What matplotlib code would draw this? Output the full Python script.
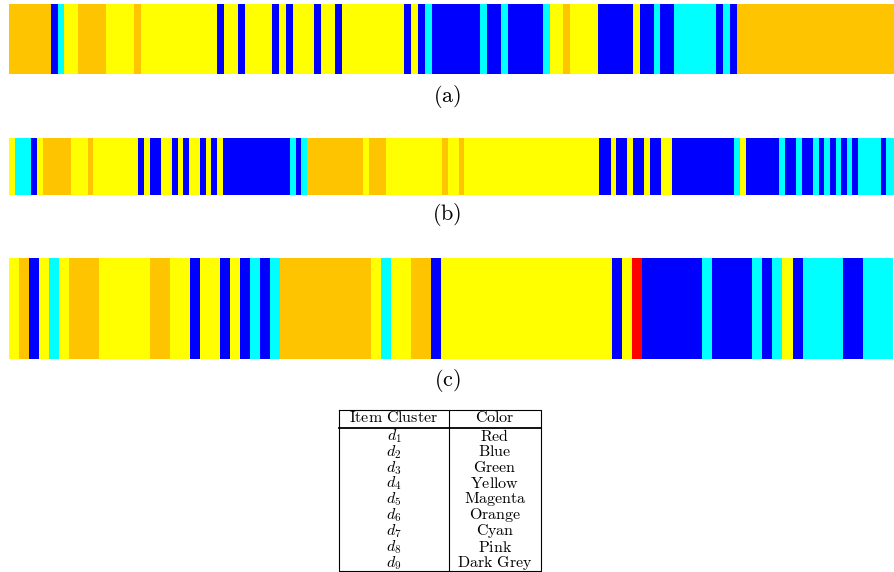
import numpy as np
import matplotlib
matplotlib.use("Agg")
import matplotlib.pyplot as plt

plt.rcParams["mathtext.fontset"] = "cm"

# cluster colours seen in the strips
colors = {"R": "#FF0000", "B": "#0000FF", "C": "#00FFFF",
          "Y": "#FFFF00", "O": "#FFC400"}

# run-length encoded cluster sequences (label, run length)
strip_a_labels = ["O", "B", "C", "Y", "O", "Y", "O", "Y", "B", "Y", "B", "Y", "B", "Y", "B",
                  "Y", "B", "Y", "B", "Y", "B", "Y", "B", "C", "B", "C", "B", "C", "B", "C",
                  "Y", "O", "Y", "B", "Y", "B", "C", "B", "C", "B", "C", "B", "O"]
strip_a_runs = [6, 1, 1, 2, 4, 4, 1, 11, 1, 2, 1, 4, 1, 1, 1,
                3, 1, 2, 1, 9, 1, 1, 1, 1, 7, 1, 2, 1, 5, 1,
                2, 1, 4, 5, 1, 2, 1, 2, 6, 1, 1, 1, 23]

strip_b_labels = ["Y", "C", "B", "Y", "O", "Y", "O", "Y", "B", "Y", "B", "Y", "B", "Y", "B",
                  "Y", "B", "Y", "B", "Y", "B", "C", "B", "C", "O", "Y", "O", "Y", "O", "Y",
                  "O", "Y", "B", "Y", "B", "Y", "B", "Y", "B", "Y", "B", "C", "Y", "B", "C",
                  "B", "C", "B", "C", "B", "C", "B", "C", "B", "C", "B", "C", "B", "C"]
strip_b_runs = [1, 3, 1, 1, 5, 3, 1, 8, 1, 1, 2, 2, 1, 1, 1,
                2, 1, 1, 1, 1, 12, 1, 1, 1, 10, 1, 3, 10, 1, 2,
                1, 24, 2, 1, 2, 1, 2, 1, 2, 2, 11, 1, 1, 6, 1,
                2, 1, 2, 1, 1, 1, 1, 1, 1, 1, 1, 4, 1, 2]

strip_c_labels = ["Y", "O", "B", "Y", "C", "Y", "O", "Y", "O", "Y", "B", "Y", "B", "Y", "B",
                  "C", "B", "C", "O", "Y", "C", "Y", "O", "B", "Y", "B", "Y", "R", "B", "C",
                  "B", "C", "B", "C", "Y", "B", "C", "B", "C"]
strip_c_runs = [1, 1, 1, 1, 1, 1, 3, 5, 2, 2, 1, 2, 1, 1, 1,
                1, 1, 1, 9, 1, 1, 2, 2, 1, 17, 1, 1, 1, 6, 1,
                4, 1, 1, 1, 1, 1, 4, 2, 3]

captions = ["(a)", "(b)", "(c)"]

table_clusters = [r"$d_{%d}$" % i for i in range(1, 10)]
table_colors = ["Red", "Blue", "Green", "Yellow", "Magenta", "Orange", "Cyan", "Pink", "Dark Grey"]

W, H = 894, 572
fig = plt.figure(figsize=(W / 100, H / 100), dpi=100)

# (top px, bottom px, visible units, caption y px)
layout = [(4, 74, 127.7, 97), (138, 195, 157.4, 215), (258, 359, 88.1, 381)]
strips = [(strip_a_labels, strip_a_runs), (strip_b_labels, strip_b_runs),
          (strip_c_labels, strip_c_runs)]

for (labels, runs), (top, bot, vis, cap_y), cap in zip(strips, layout, captions):
    ax = fig.add_axes([9 / W, 1 - bot / H, (W - 9) / W, (bot - top) / H])
    lefts = np.concatenate([[0], np.cumsum(runs)[:-1]])
    ax.barh(0, runs, left=lefts, height=1, color=[colors[l] for l in labels],
            linewidth=0, align="edge")
    ax.set_xlim(0, vis)
    ax.set_ylim(0, 1)
    ax.axis("off")
    fig.text(447 / W, 1 - cap_y / H, r"$\mathrm{%s}$" % cap, ha="center", va="center",
             fontsize=16)

# table drawn in pixel coordinates
tab = fig.add_axes([0, 0, 1, 1])
tab.set_xlim(0, W)
tab.set_ylim(H, 0)
tab.axis("off")
x0, x1, xm = 339, 541, 449
y0, yh, y1 = 410, 428, 571
lw = 0.8
tab.plot([x0, x1, x1, x0, x0], [y0, y0, y1, y1, y0], color="black", lw=lw)
tab.plot([xm, xm], [y0, y1], color="black", lw=lw)
tab.plot([x0, x1], [yh, yh], color="black", lw=1.3)

fs = 11.5
tab.text((x0 + xm) / 2, 418, r"$\mathrm{Item\ Cluster}$", ha="center", va="center", fontsize=fs)
tab.text((xm + x1) / 2, 418, r"$\mathrm{Color}$", ha="center", va="center", fontsize=fs)
row_h = (y1 - yh) / len(table_clusters)
for i, (d, c) in enumerate(zip(table_clusters, table_colors)):
    yc = yh + row_h * (i + 0.5)
    tab.text((x0 + xm) / 2, yc, d, ha="center", va="center", fontsize=fs)
    tab.text((xm + x1) / 2, yc, r"$\mathrm{%s}$" % c.replace(" ", r"\ "), ha="center",
             va="center", fontsize=fs)

fig.savefig("out.png", dpi=100)
